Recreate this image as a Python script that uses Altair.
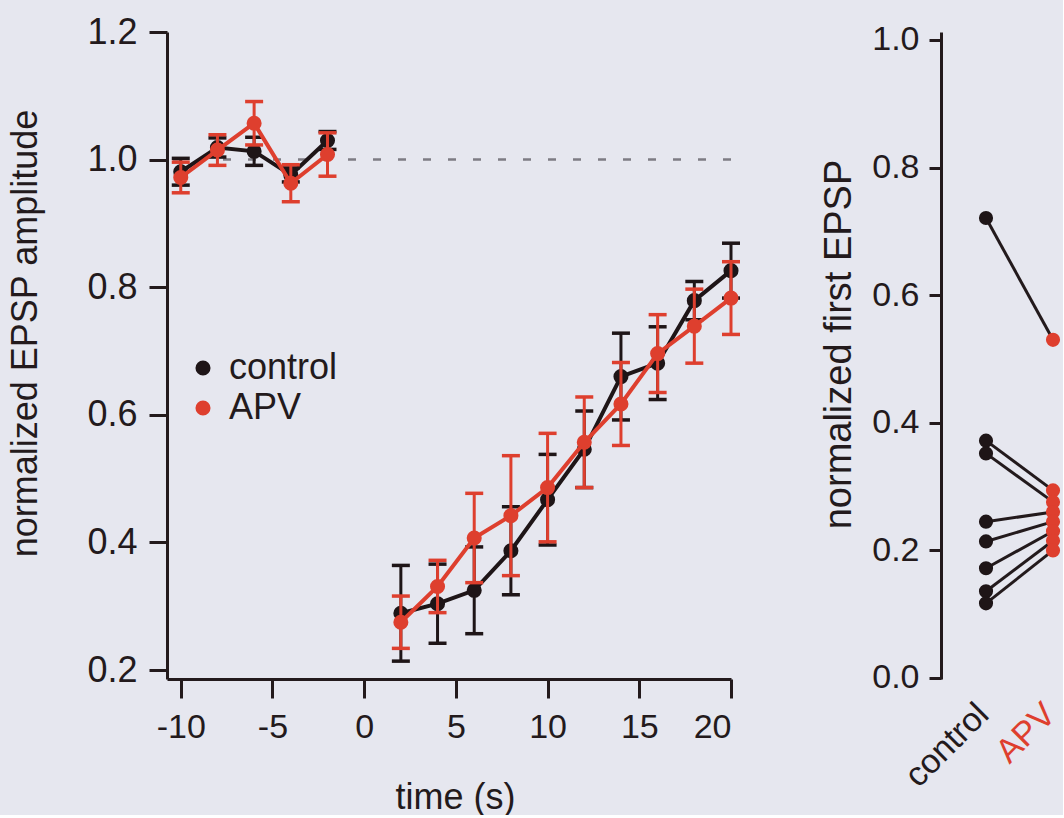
import altair as alt
import pandas as pd

# ---------------- data ----------------
series = ["control", "APV"]
colors = ["#1E1517", "#DE3F2E"]

times_pre = [-10, -8, -6, -4, -2]
times_post = [2, 4, 6, 8, 10, 12, 14, 16, 18, 20]

control_pre = [0.981, 1.019, 1.013, 0.976, 1.030]
control_pre_err = [0.021, 0.015, 0.022, 0.011, 0.014]
apv_pre = [0.972, 1.015, 1.057, 0.963, 1.008]
apv_pre_err = [0.024, 0.024, 0.034, 0.029, 0.034]

control_post = [0.289, 0.304, 0.325, 0.387, 0.467, 0.546, 0.660, 0.681, 0.779, 0.826]
control_post_err = [0.075, 0.062, 0.068, 0.069, 0.071, 0.060, 0.068, 0.057, 0.030, 0.043]
apv_post = [0.275, 0.331, 0.407, 0.442, 0.486, 0.557, 0.617, 0.696, 0.739, 0.783]
apv_post_err = [0.041, 0.041, 0.070, 0.094, 0.085, 0.071, 0.065, 0.061, 0.058, 0.057]

first_control = [0.721, 0.372, 0.352, 0.245, 0.214, 0.172, 0.136, 0.117]
first_apv = [0.530, 0.294, 0.276, 0.260, 0.245, 0.230, 0.215, 0.200]

x_ticks = [-10, -5, 0, 5, 10, 15, 20]
y_ticks_left = [0.2, 0.4, 0.6, 0.8, 1.0, 1.2]
y_ticks_right = [0.0, 0.2, 0.4, 0.6, 0.8, 1.0]

# ---------------- tables ----------------
rows = []
for name, pre, pre_e, post, post_e in [
    ("control", control_pre, control_pre_err, control_post, control_post_err),
    ("APV", apv_pre, apv_pre_err, apv_post, apv_post_err),
]:
    for t, v, e in zip(times_pre, pre, pre_e):
        rows.append(dict(series=name, segment="pre", time=t, value=v, lo=v - e, hi=v + e))
    for t, v, e in zip(times_post, post, post_e):
        rows.append(dict(series=name, segment="post", time=t, value=v, lo=v - e, hi=v + e))
df = pd.DataFrame(rows)

rows2 = []
for i, (c, a) in enumerate(zip(first_control, first_apv)):
    rows2.append(dict(cell=i, group="control", value=c))
    rows2.append(dict(cell=i, group="APV", value=a))
df2 = pd.DataFrame(rows2)

FONT = "Liberation Sans"
INK = "#231A1C"
RED = colors[1]

x_scale = alt.Scale(domain=[-10.75, 20], nice=False, zero=False)
y_scale = alt.Scale(domain=[0.186, 1.2], nice=False, zero=False)

x_axis = alt.Axis(values=x_ticks, title="time (s)", labelPadding=12, titlePadding=36,
                  tickSize=19, titleX=288,
                  labelExpr="datum.value < 0 ? '-' + abs(datum.value) : '' + datum.value")
y_axis = alt.Axis(values=y_ticks_left, format=".1f", title="normalized EPSP amplitude",
                  tickSize=18, labelPadding=12, titlePadding=42, titleY=301,
                  labelFontSize=36)

def X(field="time"):
    return alt.X(f"{field}:Q", scale=x_scale, axis=x_axis)

def Y(field):
    return alt.Y(f"{field}:Q", scale=y_scale, axis=y_axis)

ref = alt.Chart(pd.DataFrame({"ref": [1.0]})).mark_rule(
    strokeDash=[8, 17], color="#7E7C84", strokeWidth=2.5
).encode(y=alt.Y("ref:Q", scale=y_scale, axis=y_axis))

layers = [ref]
for name, col in zip(series, colors):
    b = alt.Chart(df).transform_filter(alt.datum.series == name)
    err = b.mark_rule(strokeWidth=3, color=col).encode(x=X(), y=Y("lo"), y2="hi:Q")
    cap_lo = b.mark_point(shape="M-1,0L1,0", size=324, filled=False, strokeWidth=3.5,
                          color=col, opacity=1).encode(x=X(), y=Y("lo"))
    cap_hi = b.mark_point(shape="M-1,0L1,0", size=324, filled=False, strokeWidth=3.5,
                          color=col, opacity=1).encode(x=X(), y=Y("hi"))
    line = b.mark_line(strokeWidth=4, color=col).encode(x=X(), y=Y("value"), detail="segment:N")
    pts = b.mark_circle(size=227, opacity=1).encode(
        x=X(), y=Y("value"),
        color=alt.Color("series:N", scale=alt.Scale(domain=series, range=colors),
                        legend=alt.Legend(title=None, orient="none", legendX=18, legendY=318,
                                          labelFontSize=36, labelFont=FONT, labelColor=INK,
                                          symbolType="circle", symbolSize=227,
                                          symbolStrokeWidth=0, rowPadding=4,
                                          labelOffset=8)),
    )
    layers += [err, cap_lo, cap_hi, line, pts]

left = alt.layer(*layers).properties(width=564, height=647)

yr_scale = alt.Scale(domain=[-0.0016, 1.0125], nice=False, zero=False)
yr_axis = alt.Axis(values=y_ticks_right, format=".1f", title="normalized first EPSP",
                   tickSize=12, labelPadding=10, titlePadding=13, titleY=312,
                   titleFontSize=38)
xr = alt.X("group:N", sort=series,
           scale=alt.Scale(domain=series, range=[45, 112], padding=0),
           axis=alt.Axis(title=None, labelAngle=-45, labelAlign="right", labelBaseline="middle",
                         domain=False, ticks=False, labelPadding=30, labelOffset=-3,
                         labelColor=alt.condition("datum.value == 'APV'", alt.value(RED), alt.value(INK))))

rb = alt.Chart(df2)
rlines = rb.mark_line(color=INK, strokeWidth=3).encode(
    x=xr, y=alt.Y("value:Q", scale=yr_scale, axis=yr_axis), detail="cell:N")
rpts = rb.mark_circle(size=200, opacity=1).encode(
    x=xr, y=alt.Y("value:Q", scale=yr_scale, axis=yr_axis),
    color=alt.Color("group:N", scale=alt.Scale(domain=series, range=colors), legend=None))
right = alt.layer(rlines, rpts).properties(width=112, height=647)

chart = alt.hconcat(left, right, spacing=73).resolve_scale(
    color="independent"
).resolve_legend(color="independent").properties(
    background="#E6E7EF",
    padding={"left": 7, "top": 14, "right": 0, "bottom": 0},
).configure_view(stroke=None).configure_axis(
    grid=False,
    domainColor=INK, domainWidth=3,
    tickColor=INK, tickWidth=3,
    labelFont=FONT, labelFontSize=34, labelColor=INK,
    titleFont=FONT, titleFontSize=36, titleFontWeight="normal", titleColor=INK,
)

chart.save("out.html", embed_options={"renderer": "svg", "actions": False})
